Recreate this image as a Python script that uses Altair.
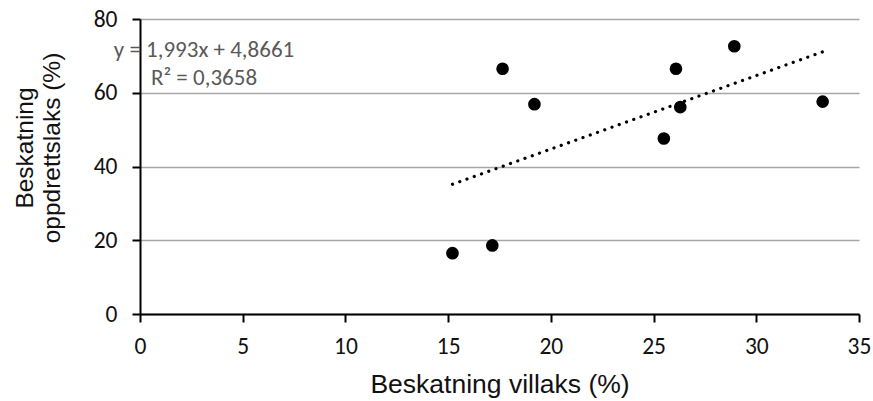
import altair as alt
import pandas as pd

# Beskatning (%) per elv: villaks (x) mot oppdrettslaks (y)
villaks = [15.21, 17.15, 17.65, 19.2, 25.5, 26.09, 26.3, 28.93, 33.23]
oppdrett = [16.5, 18.6, 66.5, 56.9, 47.6, 66.5, 56.1, 72.6, 57.6]

# Lineær trendlinje og forklaringsgrad
slope = 1.993
intercept = 4.8661
r_squared = 0.3658

x_ticks = [0, 5, 10, 15, 20, 25, 30, 35]
y_ticks = [0, 20, 40, 60, 80]

points = pd.DataFrame({"villaks": villaks, "oppdrett": oppdrett})
trend_x = [min(villaks), max(villaks)]
trend = pd.DataFrame(
    {"villaks": trend_x, "oppdrett": [slope * v + intercept for v in trend_x]}
)


def no_comma(v, digits):
    return f"{v:.{digits}f}".replace(".", ",")


eq_lines = [
    f"y = {no_comma(slope, 3)}x + {no_comma(intercept, 4)}",
    f"R² = {no_comma(r_squared, 4)}",
]

W, H = 719, 295
LABEL_FONT = "Carlito, Calibri, 'Liberation Sans', Arial, sans-serif"
TITLE_FONT = "'Liberation Sans', Arial, sans-serif"

x_enc = alt.X(
    "villaks:Q",
    scale=alt.Scale(domain=[0, 35], nice=False, zero=False),
    axis=alt.Axis(
        values=x_ticks,
        grid=False,
        title="Beskatning villaks (%)",
        labelFlush=False,
        labelBaseline="alphabetic",
        labelPadding=31,
        titleBaseline="alphabetic",
        titleFontSize=26.5,
        titleX=W / 2,
        titleY=78,
        titleAlign="center",
    ),
)
y_enc = alt.Y(
    "oppdrett:Q",
    scale=alt.Scale(domain=[0, 80], nice=False),
    axis=alt.Axis(
        values=y_ticks,
        grid=True,
        gridColor="#a6a6a6",
        gridWidth=1.5,
        title=["Beskatning", "oppdrettslaks (%)"],
        titleAngle=270,
        titleBaseline="alphabetic",
        titleAlign="center",
        titleFontSize=24.5,
        titleLineHeight=27,
        titleX=-108,
        titleY=128.5,
        labelFlush=False,
        labelPadding=15,
        labelBaseline="middle",
    ),
)

scatter = (
    alt.Chart(points)
    .mark_circle(size=160, color="#000000", opacity=1)
    .encode(x=x_enc, y=y_enc)
)

trendline = (
    alt.Chart(trend)
    .mark_line(
        color="#000000",
        strokeWidth=3.2,
        strokeCap="round",
        strokeDash=[0.1, 7.6],
    )
    .encode(x="villaks:Q", y="oppdrett:Q")
)

equation = (
    alt.Chart(pd.DataFrame({"t": [0]}))
    .mark_text(
        font=LABEL_FONT,
        fontSize=23,
        color="#595959",
        align="center",
        baseline="alphabetic",
        lineHeight=28.3,
    )
    .encode(x=alt.value(64), y=alt.value(38), text=alt.value(eq_lines))
)

chart = (
    alt.layer(scatter, trendline, equation)
    .properties(
        width=W,
        height=H,
        autosize=alt.AutoSizeParams(type="none"),
        padding={"left": 140, "top": 19, "right": 14, "bottom": 87},
        background="#ffffff",
    )
    .configure_view(stroke=None)
    .configure_axis(
        domainColor="#000000",
        domainWidth=2,
        tickColor="#000000",
        tickWidth=2,
        tickSize=8,
        labelFont=LABEL_FONT,
        labelFontSize=23.5,
        labelColor="#111111",
        titleFont=TITLE_FONT,
        titleFontWeight="normal",
        titleColor="#111111",
    )
)

chart.save("out.html", embed_options={"renderer": "svg", "actions": False})
